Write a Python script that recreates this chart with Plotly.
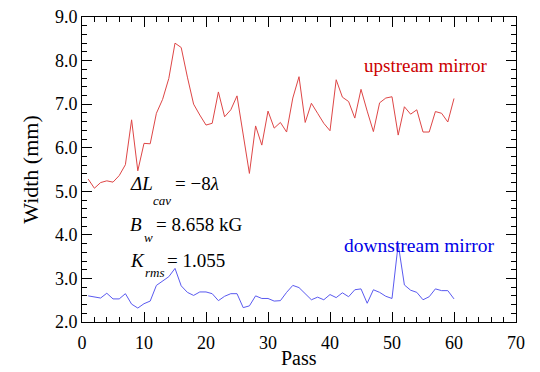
import plotly.graph_objects as go

passes = list(range(1, 61))
upstream = [5.28, 5.07, 5.20, 5.24, 5.21, 5.36, 5.61, 6.64, 5.47, 6.10,
            6.09, 6.79, 7.11, 7.59, 8.40, 8.30, 7.62, 7.00, 6.75, 6.52,
            6.56, 7.28, 6.71, 6.87, 7.19, 6.25, 5.41, 6.50, 6.06, 6.84,
            6.45, 6.58, 6.36, 7.14, 7.63, 6.58, 7.02, 6.79, 6.56, 6.39,
            7.56, 7.16, 7.06, 6.68, 7.34, 6.84, 6.37, 7.03, 7.14, 7.17,
            6.29, 6.94, 6.77, 6.87, 6.36, 6.36, 6.83, 6.79, 6.59, 7.13]
downstream = [2.60, 2.57, 2.55, 2.66, 2.53, 2.53, 2.65, 2.41, 2.32, 2.42,
              2.48, 2.84, 2.93, 3.04, 3.23, 2.83, 2.68, 2.61, 2.69, 2.69,
              2.65, 2.49, 2.59, 2.65, 2.65, 2.33, 2.37, 2.60, 2.54, 2.54,
              2.48, 2.49, 2.68, 2.84, 2.79, 2.65, 2.51, 2.57, 2.51, 2.63,
              2.56, 2.67, 2.58, 2.74, 2.76, 2.43, 2.74, 2.68, 2.59, 2.54,
              3.79, 2.85, 2.73, 2.68, 2.51, 2.58, 2.76, 2.72, 2.72, 2.53]

x_ticks = [0, 10, 20, 30, 40, 50, 60, 70]
y_ticks = [2.0, 3.0, 4.0, 5.0, 6.0, 7.0, 8.0, 9.0]

FONT = "Liberation Serif"

fig = go.Figure()
fig.add_trace(go.Scatter(x=passes, y=upstream, mode="lines",
                         line=dict(color="rgb(222,70,70)", width=1), showlegend=False))
fig.add_trace(go.Scatter(x=passes, y=downstream, mode="lines",
                         line=dict(color="rgb(90,90,240)", width=1), showlegend=False))

axis_common = dict(showline=True, linecolor="black", linewidth=1, mirror="ticks",
                   ticks="inside", ticklen=10, tickwidth=1, tickcolor="black",
                   showgrid=False, zeroline=False, automargin=False,
                   tickfont=dict(family=FONT, size=18, color="black"))

fig.update_xaxes(range=[0, 70], tickvals=x_ticks, ticktext=[str(v) for v in x_ticks],
                 ticklabelstandoff=4,
                 minor=dict(ticks="inside", ticklen=5, dtick=2, tickcolor="black", tickwidth=1, showgrid=False),
                 **axis_common)
fig.update_yaxes(range=[2, 9], tickvals=y_ticks, ticktext=[f"{v:.1f}" for v in y_ticks],
                 minor=dict(ticks="inside", ticklen=5, dtick=0.2, tickcolor="black", tickwidth=1, showgrid=False),
                 title=dict(text="Width (mm)", font=dict(family=FONT, size=22, color="black"), standoff=10),
                 **axis_common)

ann = [dict(text="Pass", x=0.5, y=-0.118, xref="paper", yref="paper",
            xanchor="center", yanchor="middle", showarrow=False, borderpad=0,
            font=dict(family=FONT, size=20, color="black"))]

def add(text, x, y, size, color="black", italic=False):
    t = f"<i>{text}</i>" if italic else text
    ann.append(dict(text=t, x=x, y=y, xref="x", yref="y", xanchor="left", yanchor="middle",
                    showarrow=False, font=dict(family=FONT, size=size, color=color)))

add("upstream mirror", 45.2, 7.88, 19, color="rgb(204,0,0)")
add("downstream mirror", 41.9, 3.75, 19.5, color="rgb(0,0,230)")

add("ΔL", 7.4, 5.18, 19, italic=True)
add("cav", 11.2, 4.80, 13, italic=True)
add("= −8<i>λ</i>", 14.6, 5.18, 19)

add("B", 7.4, 4.23, 19, italic=True)
add("w", 9.6, 3.94, 13, italic=True)
add("= 8.658 kG", 11.6, 4.23, 19)

add("K", 7.4, 3.42, 19, italic=True)
add("rms", 9.8, 3.13, 13, italic=True)
add("= 1.055", 13.4, 3.42, 19)

fig.update_layout(width=540, height=372, margin=dict(l=82, r=24, t=17, b=50),
                  paper_bgcolor="white", plot_bgcolor="white", annotations=ann,
                  font=dict(family=FONT))
fig.write_html("out.html")
